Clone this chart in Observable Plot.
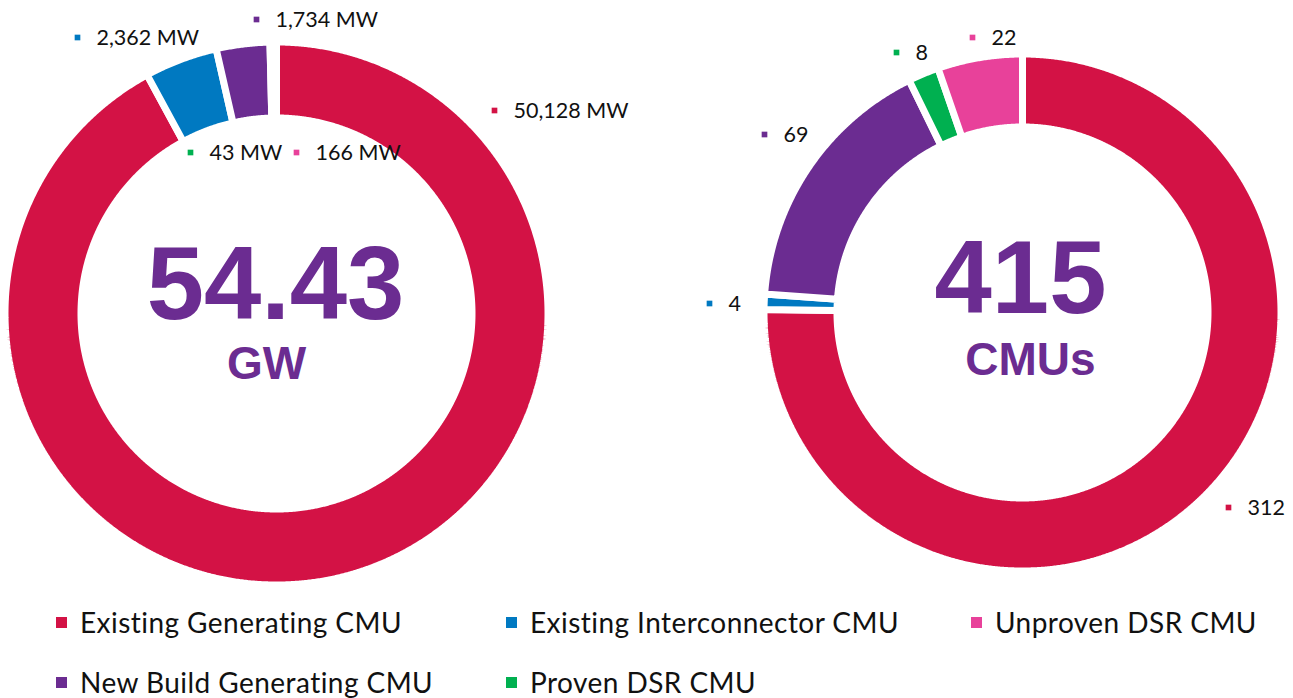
<!DOCTYPE html>
<html>
<head>
<meta charset="utf-8">
<script src="https://cdn.jsdelivr.net/npm/d3@7"></script>
<script src="https://cdn.jsdelivr.net/npm/@observablehq/plot@0.6"></script>
<style>
  html, body { margin: 0; padding: 0; background: #fff; overflow: hidden; }
  #wrap { position: relative; width: 1293px; height: 698px; }
  #legend { position: absolute; left: 0; top: 0; width: 1293px; height: 698px; pointer-events: none; }
  .item { position: absolute; display: flex; align-items: center; font-family: Lato, "Open Sans", sans-serif; font-size: 28px; letter-spacing: 0.45px; color: #111; white-space: nowrap; }
  .sw { width: 11px; height: 11px; margin-right: 13px; }
</style>
</head>
<body>
<div id="wrap"><div id="chart"></div><div id="legend"></div></div>
<script>
// ---- data ----
const categories = ["Existing Generating CMU", "Existing Interconnector CMU", "New Build Generating CMU", "Proven DSR CMU", "Unproven DSR CMU"];
const colors = ["#d31245", "#0079c1", "#6b2c91", "#00b050", "#e8419a"];
const capacityMW = [50128, 2362, 1734, 43, 166];
const cmuCounts = [312, 4, 69, 8, 22];
const capacityLabels = ["50,128 MW", "2,362 MW", "1,734 MW", "43 MW", "166 MW"];
const cmuLabels = ["312", "4", "69", "8", "22"];
const centerValues = ["54.43", "415"];
const centerUnits = ["GW", "CMUs"];
const legendOrder = ["Existing Generating CMU", "Existing Interconnector CMU", "Unproven DSR CMU", "New Build Generating CMU", "Proven DSR CMU"];

// ---- layout ----
const W = 1293, H = 598, GAP = 7;
const donuts = [
  {values: capacityMW, labels: capacityLabels, cx: 276, cy: 313, R: 268, r: 199,
   labelPos: [[494, 110], [77, 37], [256, 19], [190, 152], [296, 152]],
   center: {x: 275, y: 318, ux: 266, uy: 378}},
  {values: cmuCounts, labels: cmuLabels, cx: 1022, cy: 312, R: 255, r: 189,
   labelPos: [[1228, 507], [709, 303], [764, 134], [896, 52], [972, 37]],
   center: {x: 1020, y: 312, ux: 1030, uy: 374}}
];

// build ring slice polygons from the values
const polys = [];
const labelRows = [];
const centerRows = [];
donuts.forEach((dn, di) => {
  const arcs = d3.pie().sort(null).value(d => d)(dn.values);
  const Ro = dn.R + GAP / 2, Ri = dn.r - GAP / 2;
  arcs.forEach((a, i) => {
    const key = di + "-" + i;
    const n = Math.max(2, Math.ceil((a.endAngle - a.startAngle) / 0.005));
    const pts = [];
    for (let k = 0; k <= n; k++) {
      const t = a.startAngle + (a.endAngle - a.startAngle) * k / n;
      pts.push({x: dn.cx + Ro * Math.sin(t), y: dn.cy - Ro * Math.cos(t)});
    }
    for (let k = n; k >= 0; k--) {
      const t = a.startAngle + (a.endAngle - a.startAngle) * k / n;
      pts.push({x: dn.cx + Ri * Math.sin(t), y: dn.cy - Ri * Math.cos(t)});
    }
    pts.push(pts[0]);
    pts.forEach(p => polys.push({...p, key, category: categories[i]}));
    labelRows.push({x: dn.labelPos[i][0], y: dn.labelPos[i][1], text: dn.labels[i], category: categories[i]});
  });
  centerRows.push({x: dn.center.x, y: dn.center.y, ux: dn.center.ux, uy: dn.center.uy, value: centerValues[di], unit: centerUnits[di]});
});

const plot = Plot.plot({
  width: W, height: H,
  margin: 0,
  x: {domain: [0, W], range: [0, W], axis: null},
  y: {domain: [0, H], range: [0, H], axis: null},
  color: {domain: categories, range: colors},
  style: {background: "white"},
  marks: [
    Plot.line(polys, {x: "x", y: "y", z: "key", fill: "category", stroke: "white", strokeWidth: GAP, strokeLinejoin: "miter", curve: "linear"}),
    Plot.dot(labelRows, {x: "x", y: "y", fill: "category", symbol: "square", r: 3.2, stroke: null}),
    Plot.text(labelRows, {x: "x", y: "y", text: "text", dx: 19, dy: 1, textAnchor: "start", lineAnchor: "middle", fontSize: 21.5, fontFamily: "Lato, sans-serif", fill: "#111"}),
    Plot.text(centerRows, {x: "x", y: "y", text: "value", textAnchor: "middle", lineAnchor: "bottom", fontSize: 103, fontWeight: "bold", fontFamily: "'Liberation Sans', Arial, sans-serif", fill: "#6b2c91"}),
    Plot.text(centerRows, {x: "ux", y: "uy", text: "unit", textAnchor: "middle", lineAnchor: "bottom", fontSize: 46, fontWeight: "bold", fontFamily: "'Liberation Sans', Arial, sans-serif", fill: "#6b2c91"})
  ]
});
document.getElementById("chart").appendChild(plot);

// legend (HTML, below the SVG area)
const legendCols = [56, 506, 971];
const legendRowsY = [622, 682];
const lg = document.getElementById("legend");
legendOrder.forEach((c, i) => {
  const col = i % 3, row = Math.floor(i / 3);
  const el = document.createElement("div");
  el.className = "item";
  el.style.left = legendCols[col] + "px";
  el.style.top = (legendRowsY[row] - 18) + "px";
  el.style.height = "36px";
  const sw = document.createElement("span");
  sw.className = "sw";
  sw.style.background = colors[categories.indexOf(c)];
  const tx = document.createElement("span");
  tx.textContent = c;
  el.appendChild(sw); el.appendChild(tx);
  lg.appendChild(el);
});
</script>
</body>
</html>
